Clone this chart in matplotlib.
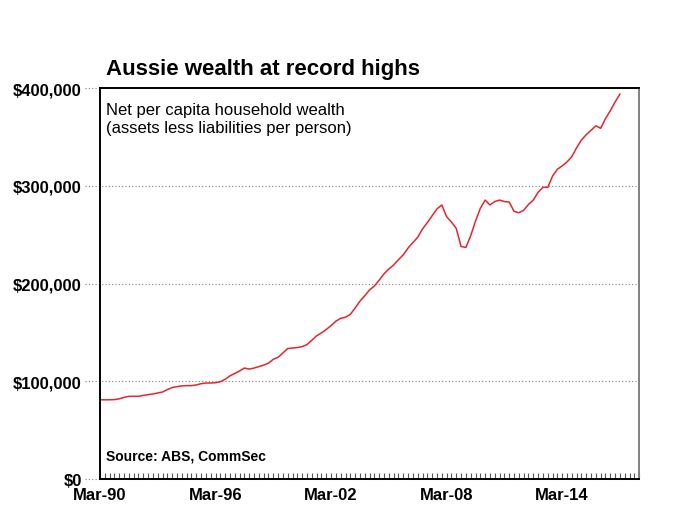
"""Aussie wealth at record highs: net per capita household wealth, quarterly from Mar-90."""
import matplotlib
matplotlib.use("Agg")
import matplotlib.pyplot as plt
from matplotlib.ticker import FuncFormatter, MultipleLocator

plt.rcParams["font.family"] = ["Liberation Sans", "DejaVu Sans"]

TITLE = "Aussie wealth at record highs"
NOTE = "Net per capita household wealth\n(assets less liabilities per person)"
SOURCE = "Source: ABS, CommSec"

# quarterly values, $'000, Mar-90 .. Mar-17
wealth_k = [
    81.0, 81.0, 81.0, 81.2, 82.0, 83.5, 84.5, 84.6, 84.5, 85.5,
    86.3, 87.0, 88.0, 89.0, 91.5, 93.5, 94.5, 95.2, 95.5, 95.5,
    96.2, 97.5, 98.2, 98.2, 98.5, 99.5, 102.0, 105.5, 108.0, 110.5,
    113.5, 112.5, 113.5, 115.0, 116.5, 118.5, 122.5, 124.5, 129.0, 133.5,
    134.0, 134.5, 135.5, 137.5, 142.0, 146.5, 149.5, 153.0, 157.0, 161.5,
    164.5, 165.5, 168.5, 175.0, 182.0, 187.5, 193.5, 197.5, 203.5, 210.0,
    215.0, 219.0, 224.5, 229.5, 236.5, 242.0, 247.5, 256.0, 262.5, 269.5,
    276.5, 280.5, 268.5, 263.0, 256.5, 238.0, 237.0, 249.0, 264.0, 277.0,
    285.5, 280.5, 284.0, 285.5, 284.0, 283.5, 274.0, 272.5, 275.0, 281.0,
    285.5, 293.5, 298.5, 298.5, 310.0, 317.0, 320.5, 324.5, 330.0, 339.0,
    347.0, 352.5, 357.0, 361.5, 359.0, 369.0, 377.0, 386.0, 394.0,
]
tick_labels = ["Mar-90", "Mar-96", "Mar-02", "Mar-08", "Mar-14"]
y_ticks = [0, 100000, 200000, 300000, 400000]
N_QUARTERS = 112  # axis runs a year past the last observation


def main():
    fig = plt.figure(figsize=(6.8, 5.1), dpi=100)
    ax = fig.add_axes([0.147, 0.059, 0.793, 0.766])

    x = list(range(len(wealth_k)))
    y = [v * 1000 for v in wealth_k]
    ax.plot(x, y, color="#e3262e", lw=1.1)

    ax.set_xlim(0, N_QUARTERS)
    ax.set_ylim(0, 400000)
    ax.set_xticks([i * 24 for i in range(len(tick_labels))], tick_labels)
    ax.xaxis.set_minor_locator(MultipleLocator(1))
    ax.set_yticks(y_ticks)
    ax.yaxis.set_major_formatter(FuncFormatter(lambda v, p: f"${v:,.0f}"))

    for lab in ax.get_xticklabels():
        lab.set_fontweight("bold")
        lab.set_fontsize(12)
    for lab in ax.get_yticklabels():
        lab.set_fontweight("bold")
        lab.set_fontsize(12)

    ax.tick_params(axis="x", which="both", direction="in", length=4, width=0.8,
                   color="#555555", pad=6)
    ax.tick_params(axis="y", length=0, pad=13)

    for v in y_ticks:
        ax.axhline(v, xmin=-0.028, xmax=1, ls=(0, (1, 2)), color="#808080",
                   lw=0.8, clip_on=False, zorder=0)

    for side in ("left", "bottom", "top"):
        ax.spines[side].set_color("black")
        ax.spines[side].set_linewidth(1.4)
    ax.spines["right"].set_color("#808080")
    ax.spines["right"].set_linewidth(1.4)

    fig.text(0.156, 0.853, TITLE, fontsize=16, fontweight="bold", ha="left",
             va="baseline")
    ax.text(0.012, 0.965, NOTE, transform=ax.transAxes, fontsize=12, ha="left",
            va="top", linespacing=1.25)
    ax.text(0.012, 0.06, SOURCE, transform=ax.transAxes, fontsize=10,
            fontweight="bold", ha="left", va="center")

    fig.savefig("out.png", dpi=100)
    plt.close(fig)


if __name__ == "__main__":
    main()
